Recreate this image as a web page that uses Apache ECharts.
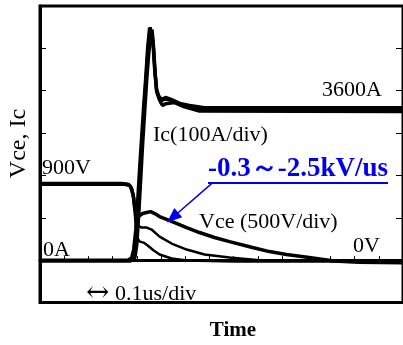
<!DOCTYPE html>
<html>
<head>
<meta charset="utf-8">
<script src="https://cdn.jsdelivr.net/npm/echarts@6/dist/echarts.min.js"></script>
<style>
  html, body { margin: 0; padding: 0; background: #fff; }
  #chart { width: 403px; height: 345px; }
</style>
</head>
<body>
<div id="chart"></div>
<script>
// Turn-on waveforms: time in µs, Vce in V (500 V/div), Ic in A (1000 A/div)
const icEarly = [[0,0],[0.363,0],[0.379,60],[0.387,250],[0.396,720],[0.404,1430],[0.412,2190],[0.420,2890],[0.428,3600],[0.437,4310],[0.445,5020],[0.453,5490],[0.459,5510],[0.466,5210],[0.474,4500],[0.482,4030],[0.490,3880],[0.503,3790],[0.519,3840],[0.544,3790],[0.577,3700],[0.618,3650],[0.680,3600],[1.5,3600]];
const icMid = [[0,-10],[0.369,-10],[0.385,60],[0.393,300],[0.401,900],[0.409,1700],[0.417,2500],[0.425,3200],[0.433,3900],[0.441,4600],[0.449,5200],[0.456,5500],[0.461,5480],[0.468,5100],[0.475,4450],[0.482,4000],[0.490,3860],[0.501,3760],[0.519,3800],[0.550,3760],[0.590,3650],[0.640,3570],[1.5,3560]];
const icLate = [[0,-20],[0.375,-20],[0.392,60],[0.400,370],[0.408,1080],[0.416,1900],[0.424,2730],[0.433,3550],[0.441,4260],[0.449,4850],[0.457,5320],[0.463,5440],[0.470,4970],[0.476,4380],[0.482,3980],[0.490,3840],[0.499,3720],[0.507,3650],[0.519,3690],[0.556,3720],[0.597,3620],[0.659,3520],[1.5,3510]];
const vceSlow = [[0,900],[0.330,900],[0.358,895],[0.371,880],[0.379,833],[0.387,739],[0.393,597],[0.400,520],[0.412,526],[0.424,550],[0.441,562],[0.457,573],[0.474,550],[0.494,514],[0.536,467],[0.606,385],[0.659,326],[0.721,267],[0.783,219],[0.878,149],[0.948,101],[1.018,66],[1.112,31],[1.215,-10],[1.318,-25],[1.5,-30]];
const vceMid = [[0,910],[0.338,910],[0.367,900],[0.379,857],[0.387,774],[0.396,538],[0.404,408],[0.420,385],[0.441,385],[0.461,361],[0.494,278],[0.544,196],[0.606,125],[0.680,66],[0.783,31],[0.906,0],[1.5,0]];
const vceFast = [[0,890],[0.346,890],[0.371,880],[0.383,774],[0.392,538],[0.400,267],[0.412,219],[0.428,207],[0.445,172],[0.470,113],[0.494,66],[0.544,19],[0.606,-5],[0.800,-15],[1.5,-15]];

// dv/dt arrow: [time µs, Vce V] from the label down to the slow trace
const dvdtArrow = [[0.709, 904], [0.548, 503]];

const serif = "'Liberation Serif', 'Times New Roman', serif";
const black = '#000';
const blue = '#0000f0';

function trace(name, data, yIndex, width) {
  return {
    name, type: 'line', data, yAxisIndex: yIndex,
    showSymbol: false, symbol: 'none', smooth: false,
    lineStyle: { color: black, width },
    silent: true, animation: false, z: 3
  };
}

function label(text, x, y, opts) {
  opts = opts || {};
  return {
    type: 'text', x, y, z: 10,
    rotation: opts.rotation || 0,
    style: {
      text,
      font: opts.font || ('22px ' + serif),
      fill: opts.fill || black,
      textAlign: opts.align || 'left', align: opts.align || 'left',
      textVerticalAlign: 'middle', verticalAlign: 'middle'
    }
  };
}

const chart = echarts.init(document.getElementById('chart'), null, { renderer: 'canvas' });
chart.setOption({
  animation: false,
  backgroundColor: '#fff',
  grid: {
    left: 40, top: 6, right: -2, bottom: 42.5,
    show: true, borderColor: black, borderWidth: 3, backgroundColor: 'transparent'
  },
  xAxis: {
    type: 'value', min: 0, max: 1.5, interval: 0.1,
    axisLine: { show: true, lineStyle: { color: black, width: 3 } },
    axisTick: { show: true, inside: true, length: 4, lineStyle: { color: black, width: 1 } },
    axisLabel: { show: false }, splitLine: { show: false }
  },
  yAxis: [
    {
      type: 'value', min: -500, max: 3000, interval: 500, position: 'left',
      axisLine: { show: true, lineStyle: { color: black, width: 3 } },
      axisTick: { show: true, inside: true, length: 6, lineStyle: { color: black, width: 1 } },
      axisLabel: { show: false }, splitLine: { show: false }
    },
    {
      type: 'value', min: -1000, max: 6000, interval: 1000, position: 'right',
      axisLine: { show: false },
      axisTick: { show: true, inside: true, length: 7, lineStyle: { color: black, width: 1 } },
      axisLabel: { show: false }, splitLine: { show: false }
    }
  ],
  series: [
    trace('Ic early', icEarly, 1, 3.5),
    trace('Ic mid', icMid, 1, 3),
    trace('Ic late', icLate, 1, 3.5),
    trace('Vce fast', vceFast, 0, 2.5),
    trace('Vce mid', vceMid, 0, 2.5),
    Object.assign(trace('Vce slow', vceSlow, 0, 3.5), {
      markLine: {
        silent: true, animation: false,
        symbol: ['none', 'triangle'], symbolSize: [12, 15],
        label: { show: false },
        lineStyle: { color: blue, width: 1.5, type: 'solid' },
        data: [[{ coord: dvdtArrow[0] }, { coord: dvdtArrow[1] }]]
      }
    })
  ],
  graphic: [
    label('Vce, Ic', 19, 143.5, { rotation: Math.PI / 2, align: 'center', font: '24px ' + serif }),
    label('Time', 233, 331, { align: 'center', font: 'bold 21px ' + serif }),
    label('900V', 42, 168.5),
    label('0A', 43, 250.5),
    label('3600A', 382, 90.5, { align: 'right' }),
    label('Ic(100A/div)', 153, 135.5),
    label('Vce (500V/div)', 199, 222.5),
    label('0V', 353, 246.5),
    label('\u2194', 86, 294, { font: "28px 'DejaVu Serif', serif" }),
    label('0.1us/div', 115, 294.5),
    label('-0.3\uFF5E-2.5kV/us', 208, 169.5, { fill: blue, font: 'bold 27px ' + serif }),
    {
      type: 'line', z: 10,
      shape: { x1: 208, y1: 183, x2: 388, y2: 183 },
      style: { stroke: blue, lineWidth: 2 }
    }
  ]
});
</script>
</body>
</html>
